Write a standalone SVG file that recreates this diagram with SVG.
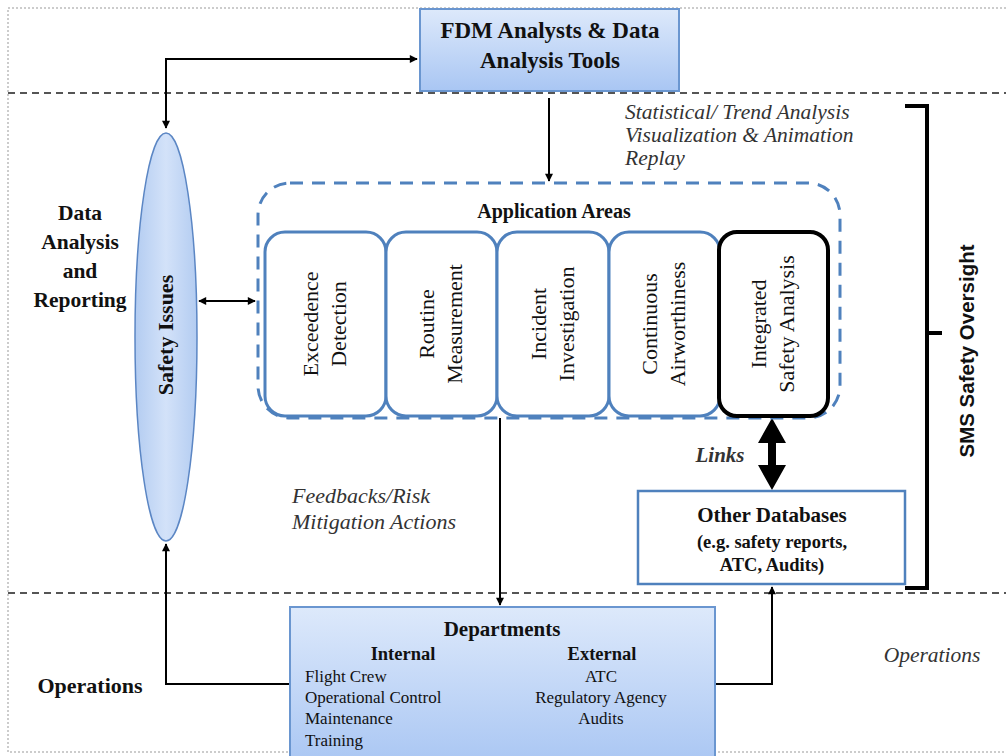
<svg xmlns="http://www.w3.org/2000/svg" width="1006" height="756" viewBox="0 0 1006 756">
<defs>
<linearGradient id="gBlue" x1="0" y1="0" x2="0" y2="1">
<stop offset="0" stop-color="#dde9fb"/>
<stop offset="1" stop-color="#a9c6f3"/>
</linearGradient>
<linearGradient id="gEll" x1="0" y1="0" x2="1" y2="0">
<stop offset="0" stop-color="#b3ccf1"/>
<stop offset="0.5" stop-color="#d3e2f9"/>
<stop offset="1" stop-color="#b3ccf1"/>
</linearGradient>
<marker id="ah" viewBox="0 0 10 10" refX="9" refY="5" markerWidth="9" markerHeight="8" orient="auto-start-reverse" markerUnits="userSpaceOnUse">
<path d="M0,0 L10,5 L0,10 z" fill="#000"/>
</marker>
<style>
.serif{font-family:"Liberation Serif","Times New Roman",serif;fill:#111}
.b{font-weight:bold}
.it{font-style:italic;fill:#333}
.lane{stroke:#555;stroke-width:2;stroke-dasharray:7 5;fill:none}
.app{fill:#fff;stroke:#4f81bd;stroke-width:3}
.con{stroke:#000;stroke-width:2;fill:none}
</style>
</defs>
<rect width="1006" height="756" fill="#fff"/>
<rect x="8" y="8" width="1010" height="744" fill="none" stroke="#999" stroke-width="1" stroke-dasharray="2 2"/>
<line class="lane" x1="8" y1="93" x2="1006" y2="93"/>
<line class="lane" x1="8" y1="593" x2="1006" y2="593"/>

<g id="labels">
<text class="serif b" font-size="21.5" text-anchor="middle"><tspan x="80" y="220">Data</tspan><tspan x="80" y="249">Analysis</tspan><tspan x="80" y="278">and</tspan><tspan x="80" y="307">Reporting</tspan></text>
<text class="serif b" x="90" y="693" font-size="22" text-anchor="middle">Operations</text>
<text class="serif it" x="932" y="662" font-size="21.5" text-anchor="middle">Operations</text>
<text class="serif it" font-size="21.5"><tspan x="625" y="119">Statistical/ Trend Analysis</tspan><tspan x="625" y="142">Visualization &amp; Animation</tspan><tspan x="625" y="165">Replay</tspan></text>
<text class="serif it" font-size="22"><tspan x="292" y="503">Feedbacks/Risk</tspan><tspan x="292" y="529">Mitigation Actions</tspan></text>
<text class="serif b it" x="720" y="462" font-size="21" text-anchor="middle" fill="#222">Links</text>
<text font-family="'Liberation Sans',Arial,sans-serif" font-weight="bold" font-size="20.5" fill="#111" text-anchor="middle" transform="translate(974,351) rotate(-90)">SMS Safety Oversight</text>
</g>

<g id="connectors">
<polyline class="con" points="166,128 166,59 417,59" marker-start="url(#ah)" marker-end="url(#ah)"/>
<line class="con" x1="199" y1="301" x2="255" y2="301" marker-start="url(#ah)" marker-end="url(#ah)"/>
<line class="con" x1="549" y1="98" x2="549" y2="181" marker-end="url(#ah)"/>
<line class="con" x1="500" y1="418" x2="500" y2="605" marker-end="url(#ah)"/>
<polyline class="con" points="290,684 166,684 166,544" marker-end="url(#ah)"/>
<polyline class="con" points="715,684 772,684 772,587" marker-end="url(#ah)"/>
<polygon points="772,418 786,443 776,443 776,465 786,465 772,490 758,465 768,465 768,443 758,443" fill="#000"/>
<path d="M905,106 H927 V588 H905 M927,333 H942" fill="none" stroke="#000" stroke-width="4" stroke-linejoin="miter"/>
</g>

<g id="fdm">
<rect x="420" y="9" width="259" height="82" fill="url(#gBlue)" stroke="#6a96d0" stroke-width="2"/>
<text class="serif b" font-size="23" text-anchor="middle"><tspan x="550" y="38">FDM Analysts &amp; Data</tspan><tspan x="550" y="68">Analysis Tools</tspan></text>
</g>

<g id="safety-issues">
<ellipse cx="166" cy="337" rx="31" ry="204" fill="url(#gEll)" stroke="#5b86c4" stroke-width="1.5"/>
<text class="serif b" font-size="22" text-anchor="middle" transform="translate(173,335) rotate(-90)">Safety Issues</text>
</g>

<g id="application-areas">
<rect x="258" y="183" width="582" height="235" rx="32" fill="none" stroke="#4f81bd" stroke-width="3" stroke-dasharray="13 9"/>
<text class="serif b" x="554" y="218" font-size="20" text-anchor="middle">Application Areas</text>
</g>

<g id="exceedence">
<rect class="app" x="265" y="232" width="121" height="184" rx="20"/>
<text class="serif" font-size="22" text-anchor="middle" transform="translate(325,324) rotate(-90)"><tspan x="0" y="-7">Exceedence</tspan><tspan x="0" y="21">Detection</tspan></text>
</g>
<g id="routine">
<rect class="app" x="386" y="232" width="111" height="184" rx="20"/>
<text class="serif" font-size="22" text-anchor="middle" transform="translate(441,324) rotate(-90)"><tspan x="0" y="-7">Routine</tspan><tspan x="0" y="21">Measurement</tspan></text>
</g>
<g id="incident">
<rect class="app" x="497" y="232" width="112" height="184" rx="20"/>
<text class="serif" font-size="22" text-anchor="middle" transform="translate(553,324) rotate(-90)"><tspan x="0" y="-7">Incident</tspan><tspan x="0" y="21">Investigation</tspan></text>
</g>
<g id="airworthiness">
<rect class="app" x="609" y="232" width="111" height="184" rx="20"/>
<text class="serif" font-size="22" text-anchor="middle" transform="translate(664,324) rotate(-90)"><tspan x="0" y="-7">Continuous</tspan><tspan x="0" y="21">Airworthiness</tspan></text>
</g>
<g id="integrated">
<rect x="719" y="232" width="109" height="184" rx="18" fill="#fff" stroke="#000" stroke-width="4"/>
<text class="serif" font-size="22" text-anchor="middle" transform="translate(773,324) rotate(-90)"><tspan x="0" y="-7">Integrated</tspan><tspan x="0" y="21">Safety Analysis</tspan></text>
</g>

<g id="other-databases">
<rect x="638" y="491" width="267" height="93" fill="#fff" stroke="#4f81bd" stroke-width="2.5"/>
<text class="serif b" x="772" y="522" font-size="21" text-anchor="middle">Other Databases</text>
<text class="serif b" x="772" y="548" font-size="18.5" text-anchor="middle">(e.g. safety reports,</text>
<text class="serif b" x="772" y="571" font-size="18.5" text-anchor="middle">ATC, Audits)</text>
</g>

<g id="departments">
<rect x="290" y="607" width="425" height="160" fill="url(#gBlue)" stroke="#6a96d0" stroke-width="2"/>
<text class="serif b" x="502" y="636" font-size="21" text-anchor="middle">Departments</text>
<text class="serif b" x="403" y="660" font-size="18.5" text-anchor="middle">Internal</text>
<text class="serif b" x="602" y="660" font-size="18.5" text-anchor="middle">External</text>
<text class="serif" font-size="17"><tspan x="305" y="682">Flight Crew</tspan><tspan x="305" y="703">Operational Control</tspan><tspan x="305" y="724">Maintenance</tspan><tspan x="305" y="746">Training</tspan></text>
<text class="serif" font-size="17" text-anchor="middle"><tspan x="601" y="682">ATC</tspan><tspan x="601" y="703">Regulatory Agency</tspan><tspan x="601" y="724">Audits</tspan></text>
</g>
</svg>
